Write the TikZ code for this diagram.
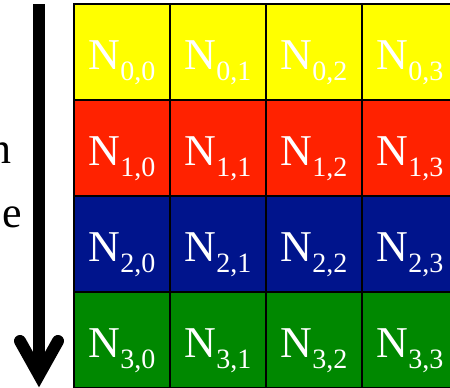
\documentclass[tikz,border=0pt]{standalone}
\usepackage{fontspec}
\setmainfont{Liberation Serif}
\definecolor{cyel}{RGB}{255,255,0}
\definecolor{cred}{RGB}{255,34,0}
\definecolor{cblu}{RGB}{0,20,140}
\definecolor{cgrn}{RGB}{0,136,0}
\begin{document}
\begin{tikzpicture}[x=1pt,y=-1pt,
  cell/.style={draw=black,line width=2pt,minimum width=96pt,minimum height=96pt,inner sep=0pt,outer sep=0pt,anchor=north west},
  lbl/.style={text=white,inner sep=0pt,anchor=base,font=\fontsize{44}{44}\selectfont},
  side/.style={text=black,inner sep=0pt,anchor=base east,font=\fontsize{44}{44}\selectfont},
  arr/.style={line width=12pt,black}]
\useasboundingbox (0,0) rectangle (450,388);
\clip (0,0) rectangle (450,388);
\foreach \r/\col in {0/cyel,1/cred,2/cblu,3/cgrn} {
  \foreach \c in {0,...,3} {
    \node[cell,fill=\col] (cell-\r-\c) at (74+96*\c, 4+96*\r) {};
    \node[lbl] (lab-\r-\c) at (122+96*\c, 69+96*\r) {N\raisebox{-0.25em}{\fontsize{28}{28}\selectfont\r,\c}};
  }
}
\coordinate (atop) at (39,4);
\coordinate (avert) at (39,375);
\coordinate (awl) at (20,341);
\coordinate (awr) at (58,341);
\draw[arr,line cap=butt] (atop) -- (avert);
\draw[arr,line cap=round,line join=miter] (awl) -- (avert) -- (awr);
\node[side] (tn) at (12,163) {n};
\node[side] (te) at (22,227) {e};
\end{tikzpicture}
\end{document}
